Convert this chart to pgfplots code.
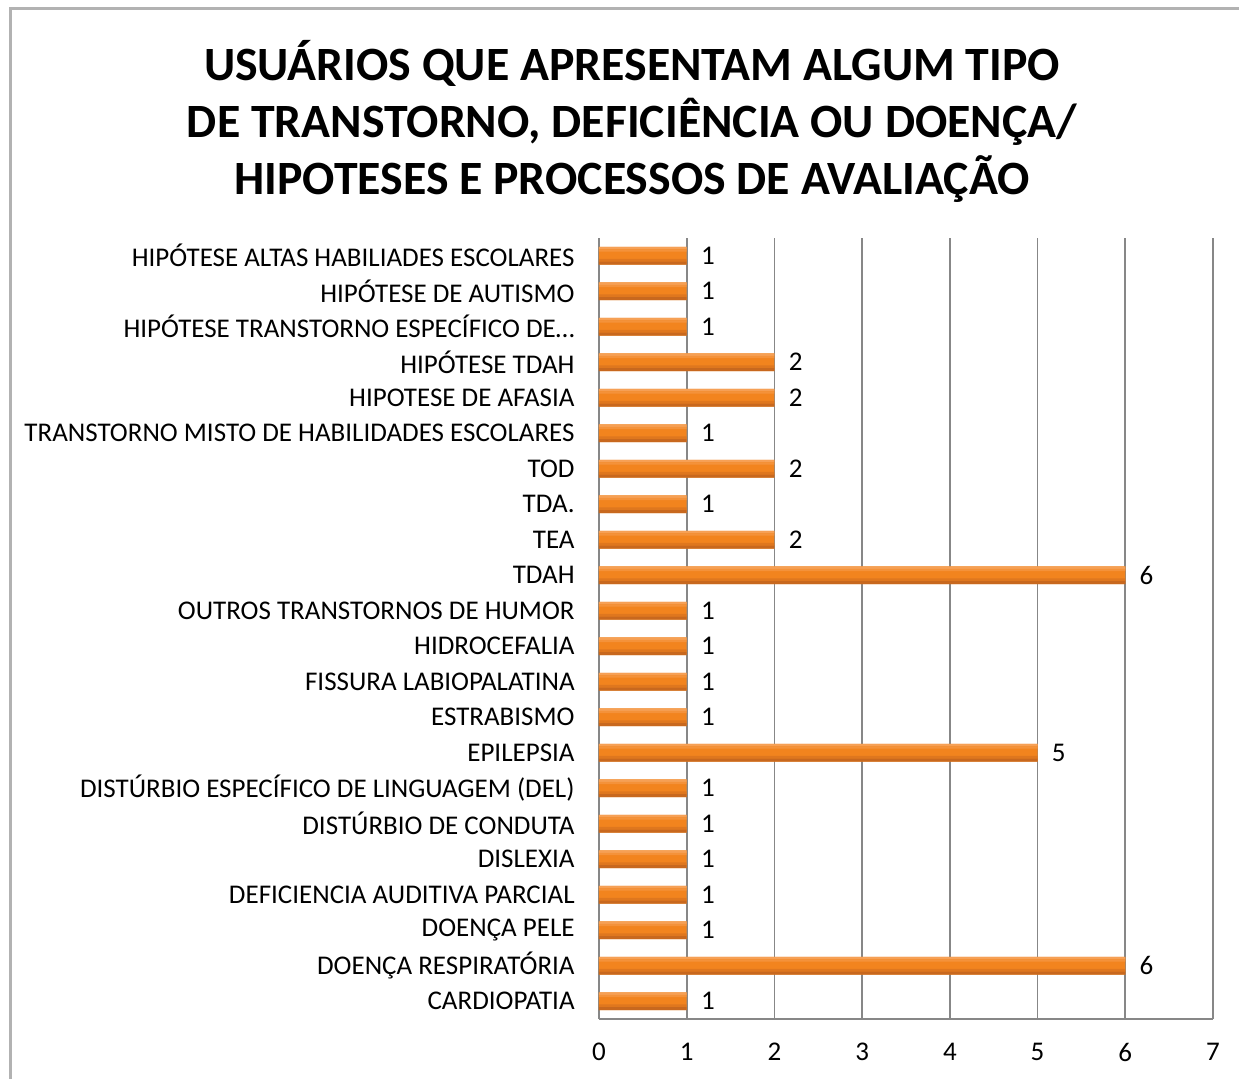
\documentclass[border=0pt]{standalone}
\usepackage{pgfplots}
\pgfplotsset{compat=1.18}
\usepackage{fontspec}
\setmainfont{Carlito}
\definecolor{barmid}{RGB}{242,132,30}
\definecolor{bartop}{RGB}{246,160,85}
\definecolor{barbot}{RGB}{200,104,30}
\definecolor{gridc}{RGB}{135,135,135}
\pgfplotstableread{
v y
1 1
6 2
1 3
1 4
1 5
1 6
1 7
5 8
1 9
1 10
1 11
1 12
6 13
2 14
1 15
2 16
1 17
2 18
2 19
1 20
1 21
1 22
}\datatab
\begin{document}
\begin{tikzpicture}
\path[use as bounding box] (0pt,0pt) rectangle (619.5pt,539.5pt);
\draw[gray!60, line width=1.5pt] (5pt,-5pt) -- (5pt,535pt) -- (625pt,535pt);
\node[align=center, font=\bfseries\fontsize{23.9}{28.5}\selectfont] at (316pt,479pt)
  {USUÁRIOS QUE APRESENTAM ALGUM TIPO\\DE TRANSTORNO, DEFICIÊNCIA OU DOENÇA/\\HIPOTESES E PROCESSOS DE AVALIAÇÃO};
\begin{axis}[
  at={(299.5pt,30pt)}, anchor=south west,
  scale only axis, width=307pt, height=390.5pt,
  xbar, bar width=8.8pt,
  xmin=0, xmax=7, ymin=0.5, ymax=22.5,
  xtick={0,1,2,3,4,5,6,7},
  ytick={1,2,3,4,5,6,7,8,9,10,11,12,13,14,15,16,17,18,19,20,21,22},
  yticklabels={{CARDIOPATIA}, {DOENÇA RESPIRATÓRIA}, {DOENÇA PELE}, {DEFICIENCIA AUDITIVA PARCIAL}, {DISLEXIA}, {DISTÚRBIO DE CONDUTA}, {DISTÚRBIO ESPECÍFICO DE LINGUAGEM (DEL)}, {EPILEPSIA}, {ESTRABISMO}, {FISSURA LABIOPALATINA}, {HIDROCEFALIA}, {OUTROS TRANSTORNOS DE HUMOR}, {TDAH}, {TEA}, {TDA.}, {TOD}, {TRANSTORNO MISTO DE HABILIDADES ESCOLARES}, {HIPOTESE DE AFASIA}, {HIPÓTESE TDAH}, {HIPÓTESE TRANSTORNO ESPECÍFICO DE…}, {HIPÓTESE DE AUTISMO}, {HIPÓTESE ALTAS HABILIADES ESCOLARES}},
  axis x line*=bottom, axis y line*=left,
  axis line style={gridc, line width=0.9pt, -},
  xmajorgrids, grid style={gridc, line width=0.9pt},
  major tick length=0pt,
  tick label style={font=\fontsize{13.5}{16}\selectfont, text=black},
  /pgf/number format/assume math mode=true,
  xticklabel style={inner sep=0pt, anchor=north, yshift=-12pt},
  yticklabel style={inner sep=0pt, anchor=east, xshift=-12pt},
]
\addplot[draw=none, fill=barmid, bar width=8.8pt, bar shift=0pt,
  nodes near coords,
  nodes near coords style={font=\fontsize{13.5}{16}\selectfont, text=black, anchor=west, inner sep=0pt, xshift=7pt}]
  table[x=v, y=y] {\datatab};
\addplot[draw=none, fill=barbot, bar width=1.6pt, bar shift=-3.6pt] table[x=v, y=y] {\datatab};
\addplot[draw=none, fill=barmid!55!barbot, bar width=1.2pt, bar shift=-2.2pt] table[x=v, y=y] {\datatab};
\addplot[draw=none, fill=bartop, bar width=1.2pt, bar shift=3.8pt] table[x=v, y=y] {\datatab};
\addplot[draw=none, fill=barmid!50!bartop, bar width=1.2pt, bar shift=2.6pt] table[x=v, y=y] {\datatab};
\end{axis}
\end{tikzpicture}
\end{document}
